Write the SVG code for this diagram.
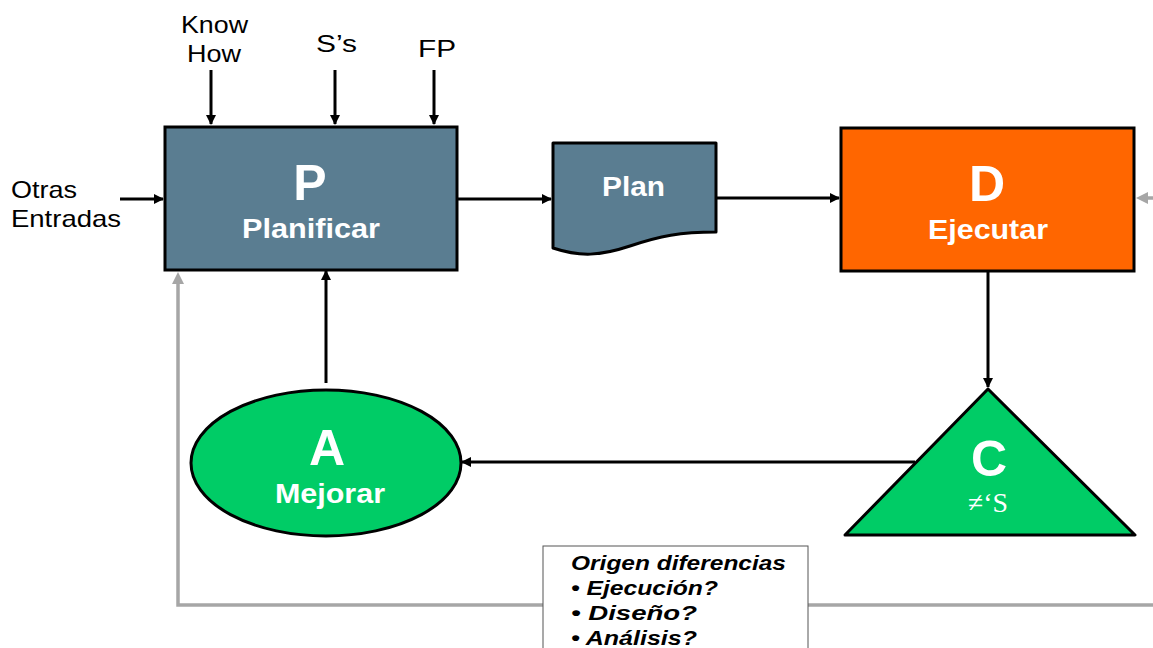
<svg xmlns="http://www.w3.org/2000/svg" width="1153" height="648" viewBox="0 0 1153 648">
<defs>
<marker id="ah" markerWidth="10" markerHeight="10" refX="9" refY="5" orient="auto" markerUnits="userSpaceOnUse" viewBox="0 0 10 10"><path d="M0,0 L10,5 L0,10 z" fill="#000"/></marker>
</defs>
<style>
.lbl{font-family:"Liberation Sans",Arial,sans-serif;font-size:24px;fill:#000}
.big{font-family:"Liberation Sans",Arial,sans-serif;font-weight:bold;font-size:50px;fill:#fff}
.sub{font-family:"Liberation Sans",Arial,sans-serif;font-weight:bold;font-size:27px;fill:#fff}
.c{stroke:#000;stroke-width:3;fill:none;marker-end:url(#ah)}
.g{stroke:#A6A6A6;stroke-width:3.5;fill:none}
.note{font-family:"Liberation Sans",Arial,sans-serif;font-weight:bold;font-style:italic;font-size:21px;fill:#000}
</style>
<g id="connectors">
<path class="g" d="M1153,605 L178,605 L178,282" />
<path d="M172,284 L178,272 L184,284 z" fill="#A6A6A6"/>
<path class="g" d="M1153,198 L1146,198"/>
<path d="M1148,192 L1136,198 L1148,204 z" fill="#A6A6A6"/>
<line class="c" x1="211" y1="70" x2="211" y2="124"/>
<line class="c" x1="335" y1="70" x2="335" y2="124"/>
<line class="c" x1="434" y1="70" x2="434" y2="124"/>
<line class="c" x1="120" y1="199" x2="163" y2="199"/>
<line class="c" x1="457" y1="199" x2="551" y2="199"/>
<line class="c" x1="716" y1="198" x2="839" y2="198"/>
<line class="c" x1="988" y1="271" x2="988" y2="387"/>
<line class="c" x1="915" y1="462" x2="462" y2="462"/>
<line class="c" x1="326" y1="383" x2="326" y2="271"/>
</g>
<g id="inputs">
<text class="lbl" x="181" y="33" textLength="67" lengthAdjust="spacingAndGlyphs">Know</text>
<text class="lbl" x="187" y="62" textLength="54" lengthAdjust="spacingAndGlyphs">How</text>
<text class="lbl" x="316" y="52" textLength="41" lengthAdjust="spacingAndGlyphs">S’s</text>
<text class="lbl" x="418" y="57" textLength="38" lengthAdjust="spacingAndGlyphs">FP</text>
<text class="lbl" x="11" y="198" textLength="66" lengthAdjust="spacingAndGlyphs">Otras</text>
<text class="lbl" x="11" y="227" textLength="110" lengthAdjust="spacingAndGlyphs">Entradas</text>
</g>
<g id="node-P">
<rect x="165" y="127" width="292" height="143" fill="#5A7D91" stroke="#000" stroke-width="3"/>
<text class="big" x="310" y="200" text-anchor="middle">P</text>
<text class="sub" x="242" y="238" textLength="138" lengthAdjust="spacingAndGlyphs">Planificar</text>
</g>
<g id="node-Plan">
<path d="M553,143 L716,143 L716,232 C680,232 660,236 630,246 C600,256 580,257 553,248 Z" fill="#5A7D91" stroke="#000" stroke-width="3" stroke-linejoin="round"/>
<text class="sub" x="602" y="196" font-size="26" textLength="63" lengthAdjust="spacingAndGlyphs">Plan</text>
</g>
<g id="node-D">
<rect x="841" y="128" width="293" height="143" fill="#FF6600" stroke="#000" stroke-width="3"/>
<text class="big" x="987" y="201" text-anchor="middle">D</text>
<text class="sub" x="928" y="239" textLength="120" lengthAdjust="spacingAndGlyphs">Ejecutar</text>
</g>
<g id="node-C">
<path d="M988,389 L1135,535 L845,535 Z" fill="#00CC66" stroke="#000" stroke-width="3" stroke-linejoin="round"/>
<text class="big" x="989" y="476" text-anchor="middle">C</text>
<text x="968" y="512" textLength="40" lengthAdjust="spacingAndGlyphs" font-family="'Liberation Serif','DejaVu Serif',serif" font-size="28" fill="#fff">≠‘S</text>
</g>
<g id="node-A">
<ellipse cx="326" cy="463" rx="135" ry="73" fill="#00CC66" stroke="#000" stroke-width="3"/>
<text class="big" x="327" y="465" text-anchor="middle">A</text>
<text class="sub" x="275" y="503" textLength="110" lengthAdjust="spacingAndGlyphs">Mejorar</text>
</g>
<g id="note">
<rect x="543" y="546" width="265" height="110" fill="#fff" stroke="#555" stroke-width="1"/>
<text class="note" x="571" y="570" textLength="215" lengthAdjust="spacingAndGlyphs">Origen diferencias</text>
<text class="note" x="571" y="595" textLength="147" lengthAdjust="spacingAndGlyphs">• Ejecución?</text>
<text class="note" x="571" y="620" textLength="126" lengthAdjust="spacingAndGlyphs">• Diseño?</text>
<text class="note" x="571" y="645" textLength="126" lengthAdjust="spacingAndGlyphs">• Análisis?</text>
</g>
</svg>
